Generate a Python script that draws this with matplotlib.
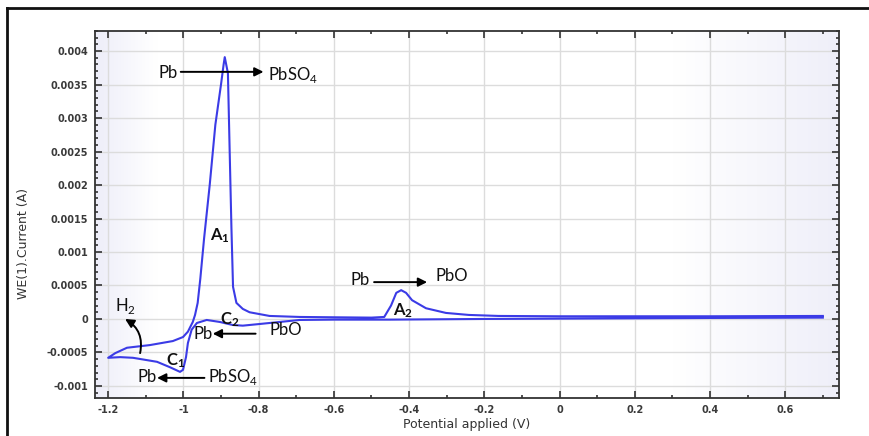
import numpy as np
import matplotlib.pyplot as plt
from matplotlib.colors import LinearSegmentedColormap
from matplotlib.lines import Line2D
from matplotlib.ticker import MultipleLocator

plt.rcParams['mathtext.fontset'] = 'custom'
plt.rcParams['mathtext.rm'] = 'Lato'
plt.rcParams['mathtext.bf'] = 'Lato:bold'

# cathodic sweep, 0.7 V -> -1.2 V
E_cath = [0.70, 0.40, 0.20, 0.00, -0.20, -0.45, -0.60, -0.691, -0.744, -0.797,
          -0.842, -0.869, -0.903, -0.938, -0.964, -0.978, -0.988, -0.993,
          -1.001, -1.009, -1.036, -1.070, -1.134, -1.168, -1.200]
I_cath = [0.00002, 0.000015, 0.00001, 0.000005, 0.0, -0.00001, -0.00001,
          -0.000015, -0.000045, -0.000075, -0.0001, -0.00009, -0.000045,
          -0.000015, -0.00006, -0.00016, -0.00036, -0.00057, -0.00076,
          -0.00079, -0.00072, -0.00064, -0.00058, -0.00057, -0.00058]

# anodic sweep, -1.2 V -> 0.7 V
E_anod = [-1.200, -1.181, -1.150, -1.089, -1.028, -1.001, -0.988, -0.975,
          -0.969, -0.962, -0.955, -0.945, -0.930, -0.915, -0.900, -0.893, -0.890,
          -0.8816, -0.877, -0.8723, -0.868, -0.859, -0.842, -0.824, -0.771,
          -0.691, -0.60, -0.50, -0.466, -0.448, -0.434, -0.421, -0.408,
          -0.392, -0.355, -0.302, -0.241, -0.162, 0.00, 0.40, 0.70]
I_anod = [-0.00058, -0.00051, -0.00043, -0.00039, -0.00033, -0.00027,
          -0.00019, -0.000045, 0.00006, 0.00024, 0.0006, 0.0012, 0.0020, 0.0029,
          0.0035, 0.0038, 0.00391, 0.00367, 0.00252, 0.00137, 0.00048,
          0.00024, 0.00015, 0.0001, 0.000045, 0.00003, 0.000025, 0.00002,
          0.00003, 0.0002, 0.00039, 0.00043, 0.00039, 0.00028, 0.00016,
          0.00009, 0.00006, 0.000045, 0.00004, 0.00004, 0.000045]

fig = plt.figure(figsize=(8.69, 4.36), dpi=100)
ax = fig.add_axes([0.1093, 0.0872, 0.8562, 0.8417])

# shaded edges of plot area
cmap = LinearSegmentedColormap.from_list('bg', [(0.0, '#eeeef9'), (0.08, '#ffffff'),
                                                (0.78, '#ffffff'), (1.0, '#efeff9')])
ax.imshow(np.linspace(0, 1, 256).reshape(1, -1), cmap=cmap, aspect='auto',
          extent=[0, 1, 0, 1], transform=ax.transAxes, zorder=0)

ax.plot(E_cath + E_anod, I_cath + I_anod, color='#3b3be6', lw=1.5, zorder=3)

ax.set_xlim(-1.235, 0.743)
ax.set_ylim(-0.00118, 0.0043)
ax.xaxis.set_major_locator(MultipleLocator(0.2))
ax.xaxis.set_minor_locator(MultipleLocator(0.1))
ax.yaxis.set_major_locator(MultipleLocator(0.0005))
ax.yaxis.set_minor_locator(MultipleLocator(0.0001))
ax.set_xticks(ax.get_xticks())
ax.set_xticklabels(['%g' % round(v, 1) for v in ax.get_xticks()])
ax.set_yticks(ax.get_yticks())
ax.set_yticklabels(['%g' % round(v, 4) for v in ax.get_yticks()])
ax.set_xlim(-1.235, 0.743)
ax.set_ylim(-0.00118, 0.0043)
ax.grid(True, which='major', color='#dcdcdc', lw=1, zorder=1)
ax.set_axisbelow(True)
ax.tick_params(which='both', direction='in', top=True, right=True, colors='#333333',
               labelsize=7, width=1.2, pad=5)
ax.tick_params(which='major', length=5)
ax.tick_params(which='minor', length=2.5)
for lab in ax.get_xticklabels() + ax.get_yticklabels():
    lab.set_fontweight('bold')
    lab.set_color('#3a3a3a')
for s in ax.spines.values():
    s.set_color('#333333')
    s.set_linewidth(1.3)

ax.set_xlabel('Potential applied (V)', fontsize=9, color='#333333', labelpad=2)
ax.set_ylabel('WE(1).Current (A)', fontsize=9, color='#333333')
ax.yaxis.set_label_coords(-0.087, 0.42)

# annotations
tf = dict(family='Lato', fontsize=12, color='#111111', va='center', zorder=5)
arr = dict(arrowstyle='-|>', color='black', lw=1.4, mutation_scale=13, shrinkA=0, shrinkB=0)

ax.text(-1.041, 0.00367, 'Pb', ha='center', **tf)
ax.annotate('', xy=(-0.787, 0.00369), xytext=(-1.007, 0.00369), arrowprops=arr)
ax.text(-0.776, 0.00365, r'PbSO$_4$', ha='left', **tf)

ax.text(-0.903, 0.00124, r'$\mathbf{A_1}$', ha='center', **tf)

ax.text(-0.530, 0.00058, 'Pb', ha='center', **tf)
ax.annotate('', xy=(-0.352, 0.00055), xytext=(-0.493, 0.00055), arrowprops=arr)
ax.text(-0.330, 0.00064, 'PbO', ha='left', **tf)

ax.text(-0.416, 0.00012, r'$\mathbf{A_2}$', ha='center', **tf)

ax.text(-1.155, 0.00020, r'H$_2$', ha='center', **tf)
ax.annotate('', xy=(-1.155, 0.0), xytext=(-1.115, -0.00051),
            arrowprops=dict(arr, connectionstyle='arc3,rad=0.35'))

ax.text(-1.020, -0.00062, r'$\mathbf{C_1}$', ha='center', **tf)
ax.text(-0.877, -0.00001, r'$\mathbf{C_2}$', ha='center', **tf)

ax.text(-1.097, -0.00087, 'Pb', ha='center', **tf)
ax.annotate('', xy=(-1.070, -0.00088), xytext=(-0.944, -0.00088), arrowprops=arr)
ax.text(-0.935, -0.00086, r'PbSO$_4$', ha='left', **tf)

ax.text(-0.948, -0.00022, 'Pb', ha='center', **tf)
ax.annotate('', xy=(-0.922, -0.00022), xytext=(-0.808, -0.00022), arrowprops=arr)
ax.text(-0.770, -0.00016, 'PbO', ha='left', **tf)

# outer frame (left and top only)
fig.add_artist(Line2D([0.008, 0.008], [0.0, 0.9817], color='#111111', lw=2))
fig.add_artist(Line2D([0.008, 1.0], [0.9817, 0.9817], color='#111111', lw=2))

fig.savefig('out.png', dpi=100)
